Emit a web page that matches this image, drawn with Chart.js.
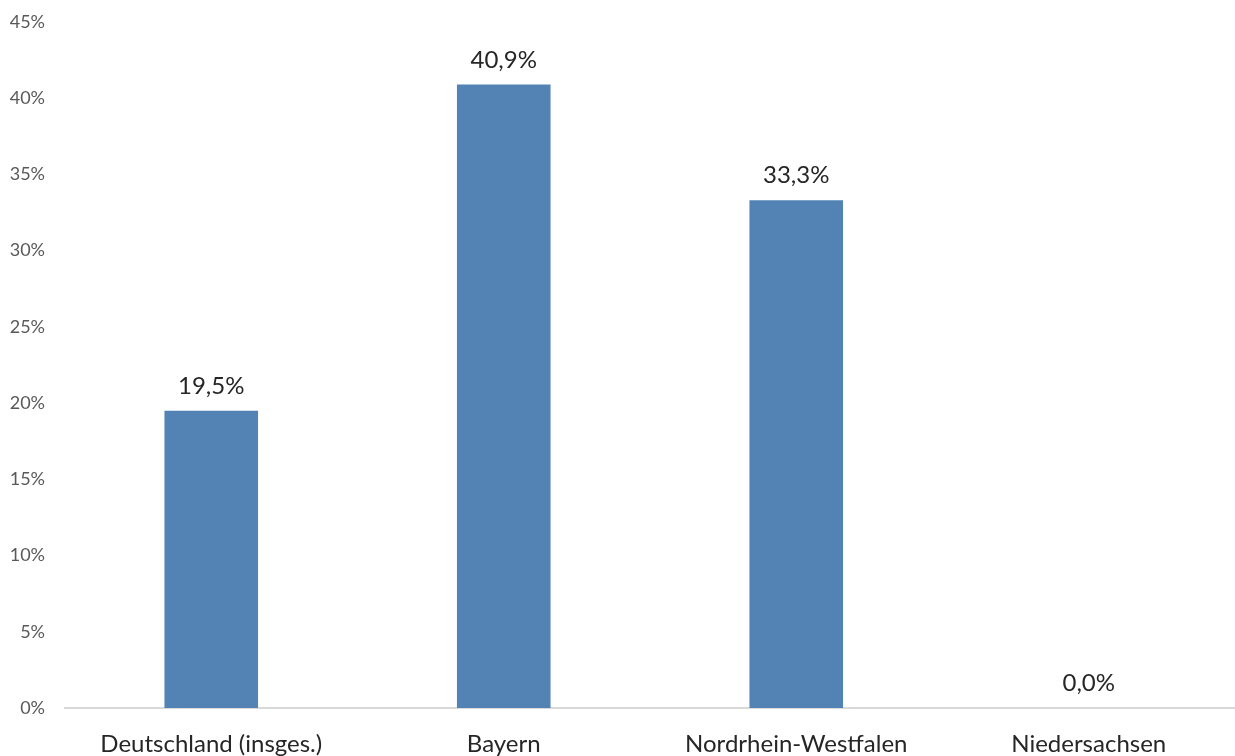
<!DOCTYPE html>
<html>
<head>
<meta charset="utf-8">
<script src="https://cdn.jsdelivr.net/npm/chart.js@4"></script>
<style>
  html, body { margin: 0; padding: 0; background: #fff; }
  canvas { display: block; }
</style>
</head>
<body>
<canvas id="chart" width="1235" height="756"></canvas>
<script>
// Kategorien und Werte (Anteil in %)
const categories = ["Deutschland (insges.)", "Bayern", "Nordrhein-Westfalen", "Niedersachsen"];
const values = [19.5, 40.9, 33.3, 0.0];
const yTicks = [0, 5, 10, 15, 20, 25, 30, 35, 40, 45];

// Wert ueber jedem Balken schreiben
const valueLabels = {
    id: "valueLabels",
    afterDatasetsDraw(chart) {
        const ctx = chart.ctx;
        const meta = chart.getDatasetMeta(0);
        ctx.save();
        ctx.font = "24px Lato, 'Open Sans', sans-serif";
        ctx.fillStyle = "#262626";
        ctx.textAlign = "center";
        ctx.textBaseline = "alphabetic";
        meta.data.forEach((bar, i) => {
            const txt = values[i].toFixed(1).replace(".", ",") + "%";
            ctx.fillText(txt, bar.x, bar.y - 17);
        });
        ctx.restore();
    }
};

new Chart(document.getElementById("chart"), {
    type: "bar",
    data: {
        labels: categories,
        datasets: [{
            data: values,
            backgroundColor: "#5283B4",
            borderWidth: 0,
            barPercentage: 0.32,
            categoryPercentage: 1
        }]
    },
    options: {
        responsive: false,
        animation: false,
        layout: { padding: { top: 22, right: 0, left: 0, bottom: 0 } },
        plugins: {
            legend: { display: false },
            tooltip: { enabled: false }
        },
        scales: {
            x: {
                grid: { display: false, drawTicks: false },
                border: { display: true, color: "#d9d9d9", width: 2 },
                ticks: {
                    color: "#262626",
                    font: { family: "Lato, 'Open Sans', sans-serif", size: 24 },
                    padding: 22,
                    maxRotation: 0
                },
                afterFit(scale) { scale.height = 48; }
            },
            y: {
                min: 0,
                max: 45,
                afterBuildTicks(scale) { scale.ticks = yTicks.map(v => ({ value: v })); },
                grid: { display: false, drawTicks: false },
                border: { display: false },
                ticks: {
                    color: "#595959",
                    font: { family: "Lato, 'Open Sans', sans-serif", size: 18 },
                    padding: 20,
                    callback: v => v + "%"
                },
                afterFit(scale) {
                    scale.width = 65;
                    // tick padding should not push the plot top down
                    scale.paddingTop = 0;
                    scale.paddingBottom = 0;
                }
            }
        }
    },
    plugins: [valueLabels]
});
</script>
</body>
</html>
